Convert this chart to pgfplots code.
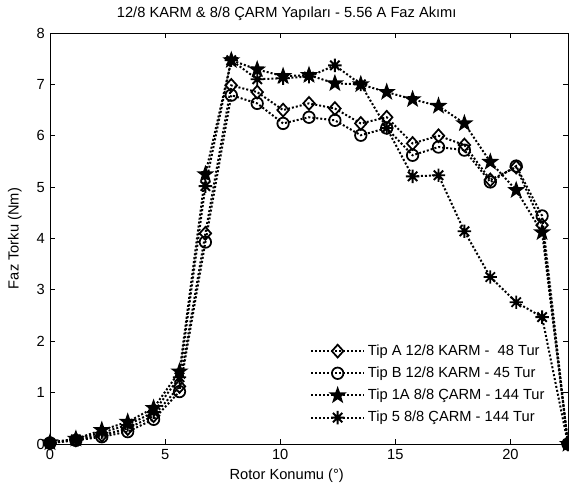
\documentclass[border=0pt]{standalone}
\usepackage{fontspec}
\setmainfont{Liberation Sans}
\usepackage{pgfplots}
\usepackage{pgfplotstable}
\pgfplotsset{compat=1.18}

% MATLAB-like marks: pentagram and 8-point asterisk
\pgfdeclareplotmark{pent}{%
  \pgfpathmoveto{\pgfpointpolar{90}{\pgfplotmarksize}}%
  \pgfpathlineto{\pgfpointpolar{126}{0.4\pgfplotmarksize}}%
  \pgfpathlineto{\pgfpointpolar{162}{\pgfplotmarksize}}%
  \pgfpathlineto{\pgfpointpolar{198}{0.4\pgfplotmarksize}}%
  \pgfpathlineto{\pgfpointpolar{234}{\pgfplotmarksize}}%
  \pgfpathlineto{\pgfpointpolar{270}{0.4\pgfplotmarksize}}%
  \pgfpathlineto{\pgfpointpolar{306}{\pgfplotmarksize}}%
  \pgfpathlineto{\pgfpointpolar{342}{0.4\pgfplotmarksize}}%
  \pgfpathlineto{\pgfpointpolar{18}{\pgfplotmarksize}}%
  \pgfpathlineto{\pgfpointpolar{54}{0.4\pgfplotmarksize}}%
  \pgfpathclose
  \pgfusepathqfillstroke
}
\pgfdeclareplotmark{ast8}{%
  \pgfpathmoveto{\pgfqpoint{-\pgfplotmarksize}{0pt}}%
  \pgfpathlineto{\pgfqpoint{\pgfplotmarksize}{0pt}}%
  \pgfpathmoveto{\pgfqpoint{0pt}{-\pgfplotmarksize}}%
  \pgfpathlineto{\pgfqpoint{0pt}{\pgfplotmarksize}}%
  \pgfpathmoveto{\pgfqpoint{-0.707\pgfplotmarksize}{-0.707\pgfplotmarksize}}%
  \pgfpathlineto{\pgfqpoint{0.707\pgfplotmarksize}{0.707\pgfplotmarksize}}%
  \pgfpathmoveto{\pgfqpoint{-0.707\pgfplotmarksize}{0.707\pgfplotmarksize}}%
  \pgfpathlineto{\pgfqpoint{0.707\pgfplotmarksize}{-0.707\pgfplotmarksize}}%
  \pgfusepathqstroke
}

\pgfplotstableread{
x      tipA  tipB  tip1A  tip5
0      0.02  0.02  0.03   0.02
1.125  0.08  0.07  0.10   0.09
2.25   0.17  0.14  0.27   0.22
3.375  0.30  0.24  0.43   0.37
4.5    0.55  0.48  0.70   0.62
5.625  1.12  1.02  1.41   1.30
6.75   4.10  3.93  5.25   5.02
7.875  6.98  6.79  7.47   7.47
9      6.85  6.63  7.29   7.10
10.125 6.50  6.24  7.16   7.12
11.25  6.63  6.36  7.18   7.15
12.375 6.53  6.30  7.02   7.37
13.5   6.24  6.01  7.00   7.00
14.625 6.36  6.15  6.85   6.15
15.75  5.85  5.62  6.71   5.21
16.875 6.00  5.78  6.58   5.23
18     5.82  5.72  6.24   4.14
19.125 5.14  5.10  5.49   3.25
20.25  5.39  5.41  4.94   2.76
21.375 4.26  4.44  4.12   2.47
22.5   0     0     0      0
}\torque

\begin{document}
\fontsize{11}{13}\selectfont
\begin{tikzpicture}
\path[use as bounding box] (-37.5pt,-33.75pt) rectangle (389.25pt,333pt);
\begin{axis}[
  scale only axis, width=388.5pt, height=308.25pt,
  xmin=0, xmax=22.5, ymin=0, ymax=8,
  xtick={0,5,10,15,20}, ytick={0,1,...,8},
  tick align=inside, major tick length=3.5pt,
  axis line style={line width=0.6pt}, every tick/.style={line width=0.6pt,black},
  /pgf/number format/assume math mode=true,
  tick label style={font=\fontsize{11}{13}\selectfont},
  clip=false,
  every axis title shift=0pt,
  title={12/8 KARM \& 8/8 ÇARM Yapıları - 5.56 A Faz Akımı},
  title style={at={(axis description cs:0.457,1.048)}, anchor=center},
  xlabel={Rotor Konumu (°)},
  xlabel style={at={(axis description cs:0.457,-0.076)}, anchor=center},
  ylabel={Faz Torku (Nm)},
  ylabel style={at={(axis description cs:-0.068,0.5)}, anchor=center},
  every axis plot/.append style={black, line width=1.5pt, dash pattern=on 1.5pt off 1.5pt},
  legend cell align=left,
  legend style={at={(axis description cs:0.968,0.035)}, anchor=south east,
    draw=none, fill=none, row sep=3pt, font=\fontsize{11}{13}\selectfont},
  legend image code/.code={%
    \draw[mark repeat=2, mark phase=2, #1] plot coordinates {(0cm,0cm) (0.7cm,0cm) (1.4cm,0cm)};},
]
\addplot[mark=diamond, mark size=4.8pt, mark options={solid, line width=1.3pt, xscale=1.2}] table[x=x, y=tipA] {\torque};
\addlegendentry{Tip A 12/8 KARM -\ \ 48 Tur}
\addplot[mark=o, mark size=4.3pt, mark options={solid, line width=1.3pt}] table[x=x, y=tipB] {\torque};
\addlegendentry{Tip B 12/8 KARM - 45 Tur}
\addplot[mark=pent, mark size=5.3pt, mark options={solid, line width=1.2pt, fill=black}] table[x=x, y=tip1A] {\torque};
\addlegendentry{Tip 1A 8/8 ÇARM - 144 Tur}
\addplot[mark=ast8, mark size=5pt, mark options={solid, line width=1.4pt}] table[x=x, y=tip5] {\torque};
\addlegendentry{Tip 5 8/8 ÇARM - 144 Tur}
\end{axis}
\end{tikzpicture}
\end{document}
